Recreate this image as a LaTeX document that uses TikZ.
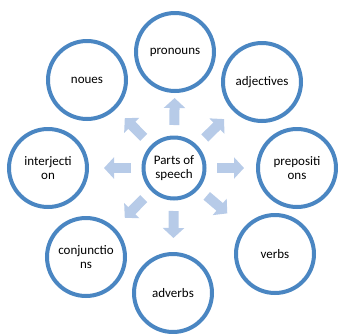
\documentclass[tikz,border=0pt]{standalone}
\usepackage{fontspec}
\setmainfont{Carlito}
\usetikzlibrary{arrows.meta,calc}
\definecolor{ringblue}{HTML}{4A86C2}
\definecolor{arrowblue}{HTML}{B7CBE8}
\begin{document}
\begin{tikzpicture}[x=1pt,y=-1pt,
  bubble/.style={circle,draw=ringblue,line width=4pt,fill=white,
    minimum size=78pt,inner sep=0pt,align=center,
    font=\fontsize{13}{13.5}\selectfont},
  hub/.style={bubble,minimum size=61pt},
  spoke/.style={arrowblue,line width=10pt,
    -{Triangle[width=21pt,length=10pt]}}]
\useasboundingbox (0,0) rectangle (338,333);
% central node
\node[hub] (c) at (174,168) {Parts of\\speech};
% surrounding nodes
\node[bubble] (pro) at (175,52) {pronouns};
\node[bubble] (adj) at (262,82) {adjectives};
\node[bubble] (pre) at (297,168) {prepositi\\ons};
\node[bubble] (ver) at (275,254) {verbs};
\node[bubble] (adv) at (173,293) {adverbs};
\node[bubble] (con) at (86,257) {conjunctio\\ns};
\node[bubble] (int) at (48,168) {interjecti\\on};
\node[bubble] (nou) at (87,80) {noues};
% block arrows from the hub towards each node
\foreach \t in {pro,adj,pre,ver,adv,con,int,nou}{
  \coordinate (from-\t) at ($(c)!43pt!(\t)$);
  \coordinate (to-\t) at ($(c)!70pt!(\t)$);
  \draw[spoke] (from-\t) -- (to-\t);
}
\end{tikzpicture}
\end{document}
